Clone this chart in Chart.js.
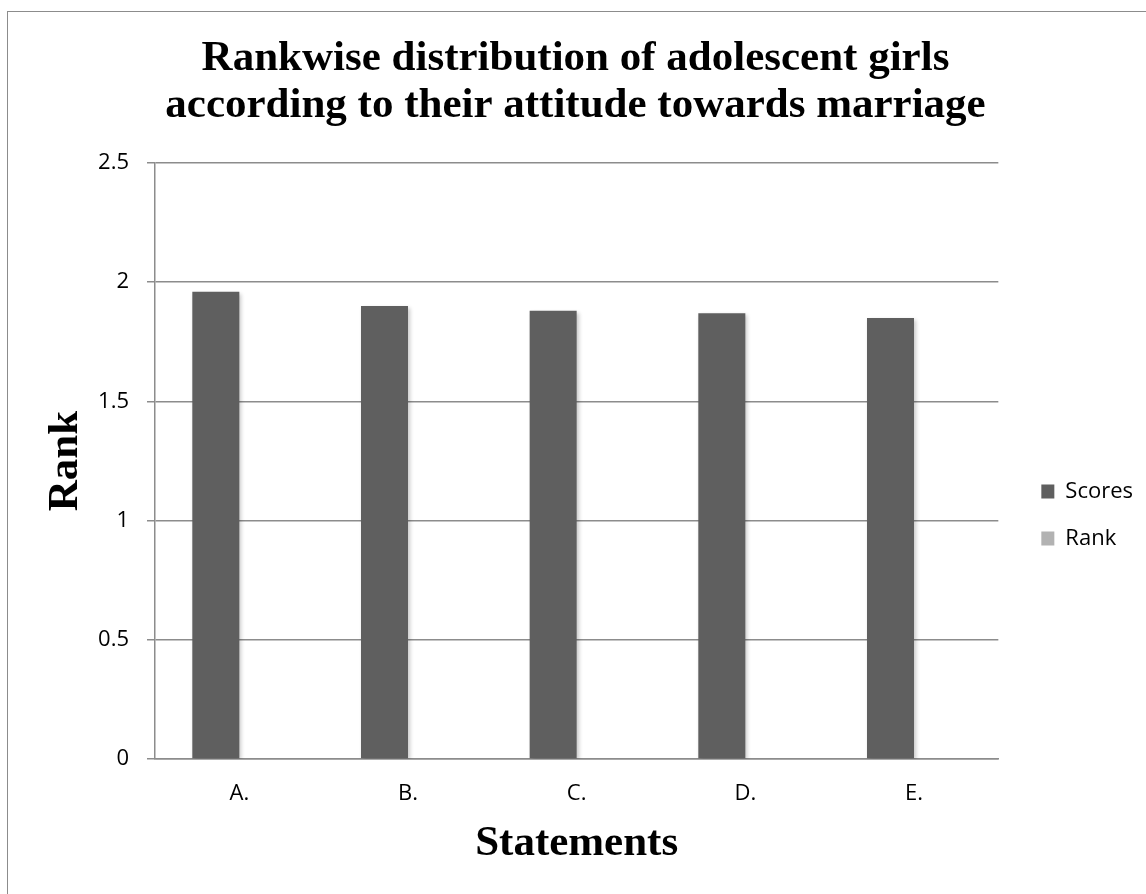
<!DOCTYPE html>
<html>
<head>
<meta charset="utf-8">
<title>Rankwise distribution of adolescent girls</title>
<script src="https://cdn.jsdelivr.net/npm/chart.js@4.4.1/dist/chart.umd.min.js"></script>
<style>
  html, body { margin: 0; padding: 0; width: 1146px; height: 894px; overflow: hidden; background: #fff; }
  #frame {
    position: absolute; left: 7px; top: 11px;
    width: 1300px; height: 1100px;
    border: 1px solid #8c8c8c; box-sizing: border-box;
  }
  #chart { position: absolute; left: 8px; top: 12px; }
</style>
</head>
<body>
<div id="frame"></div>
<canvas id="chart" width="1150" height="1006"></canvas>
<script>
  // ── data ────────────────────────────────────────────────────────────────
  var statements = ['A.', 'B.', 'C.', 'D.', 'E.'];
  var scores     = [1.96, 1.90, 1.88, 1.87, 1.85];
  var ranks      = [0, 0, 0, 0, 0];
  var titleLines = ['Rankwise distribution of adolescent girls',
                    'according to their attitude towards marriage'];

  // ── styles ──────────────────────────────────────────────────────────────
  var GRID = '#8c8c8c';
  var SCORE_COLOR = '#5f5f5f';
  var RANK_COLOR  = '#b2b2b2';
  var SANS  = '"Open Sans", "Liberation Sans", sans-serif';
  var SERIF = '"Liberation Serif", "Times New Roman", serif';

  // soft shadow behind the bars, like the office chart
  var barShadow = {
    id: 'barShadow',
    beforeDatasetsDraw: function (chart) {
      var ctx = chart.ctx;
      ctx.save();
      ctx.shadowColor = 'rgba(0,0,0,0.22)';
      ctx.shadowBlur = 4;
      ctx.shadowOffsetX = 2;
      ctx.shadowOffsetY = 2;
    },
    afterDatasetsDraw: function (chart) {
      chart.ctx.restore();
    }
  };

  new Chart(document.getElementById('chart').getContext('2d'), {
    type: 'bar',
    data: {
      labels: statements,
      datasets: [
        { label: 'Scores', data: scores, backgroundColor: SCORE_COLOR, borderWidth: 0 },
        { label: 'Rank',   data: ranks,  backgroundColor: RANK_COLOR,  borderWidth: 0 }
      ]
    },
    options: {
      responsive: false,
      animation: false,
      categoryPercentage: 0.5575,
      barPercentage: 1.0,
      layout: { padding: { left: 0, right: 15, top: 0, bottom: 0 } },
      plugins: {
        title: {
          display: true,
          text: titleLines,
          color: '#000',
          font: { family: SERIF, size: 43, weight: 'bold', lineHeight: 1.093 },
          padding: { top: 23, bottom: 34 }
        },
        legend: {
          position: 'right',
          align: 'center',
          labels: {
            color: '#000',
            font: { family: SANS, size: 22 },
            boxWidth: 13,
            boxHeight: 14,
            padding: 25
          }
        },
        tooltip: { enabled: false }
      },
      scales: {
        x: {
          grid: { display: false, drawTicks: false },
          border: { display: true, color: GRID, width: 1.5 },
          ticks: { color: '#000', font: { family: SANS, size: 22 }, padding: 22 },
          title: {
            display: true,
            text: 'Statements',
            color: '#000',
            font: { family: SERIF, size: 43, weight: 'bold' },
            padding: { top: 0, bottom: 148 }
          },
          afterFit: function (s) { s.height = 259; }
        },
        y: {
          min: 0,
          max: 2.5,
          ticks: {
            stepSize: 0.5, color: '#000', font: { family: SANS, size: 22 }, padding: 18,
            callback: function (v) { return String(v); }
          },
          grid: { color: GRID, lineWidth: 1.5, tickLength: 8 },
          border: { display: true, color: GRID, width: 1.5 },
          title: {
            display: true,
            text: 'Rank',
            color: '#000',
            font: { family: SERIF, size: 43, weight: 'bold' },
            padding: { top: 32, bottom: 0 }
          },
          afterFit: function (s) { s.width = 147; }
        },
        // empty spacer between plot and legend
        gap: {
          type: 'linear',
          position: 'right',
          display: true,
          grid: { display: false, drawTicks: false },
          border: { display: false },
          ticks: { display: false },
          afterFit: function (s) { s.width = 18; }
        }
      }
    },
    plugins: [barShadow]
  });
</script>
</body>
</html>
